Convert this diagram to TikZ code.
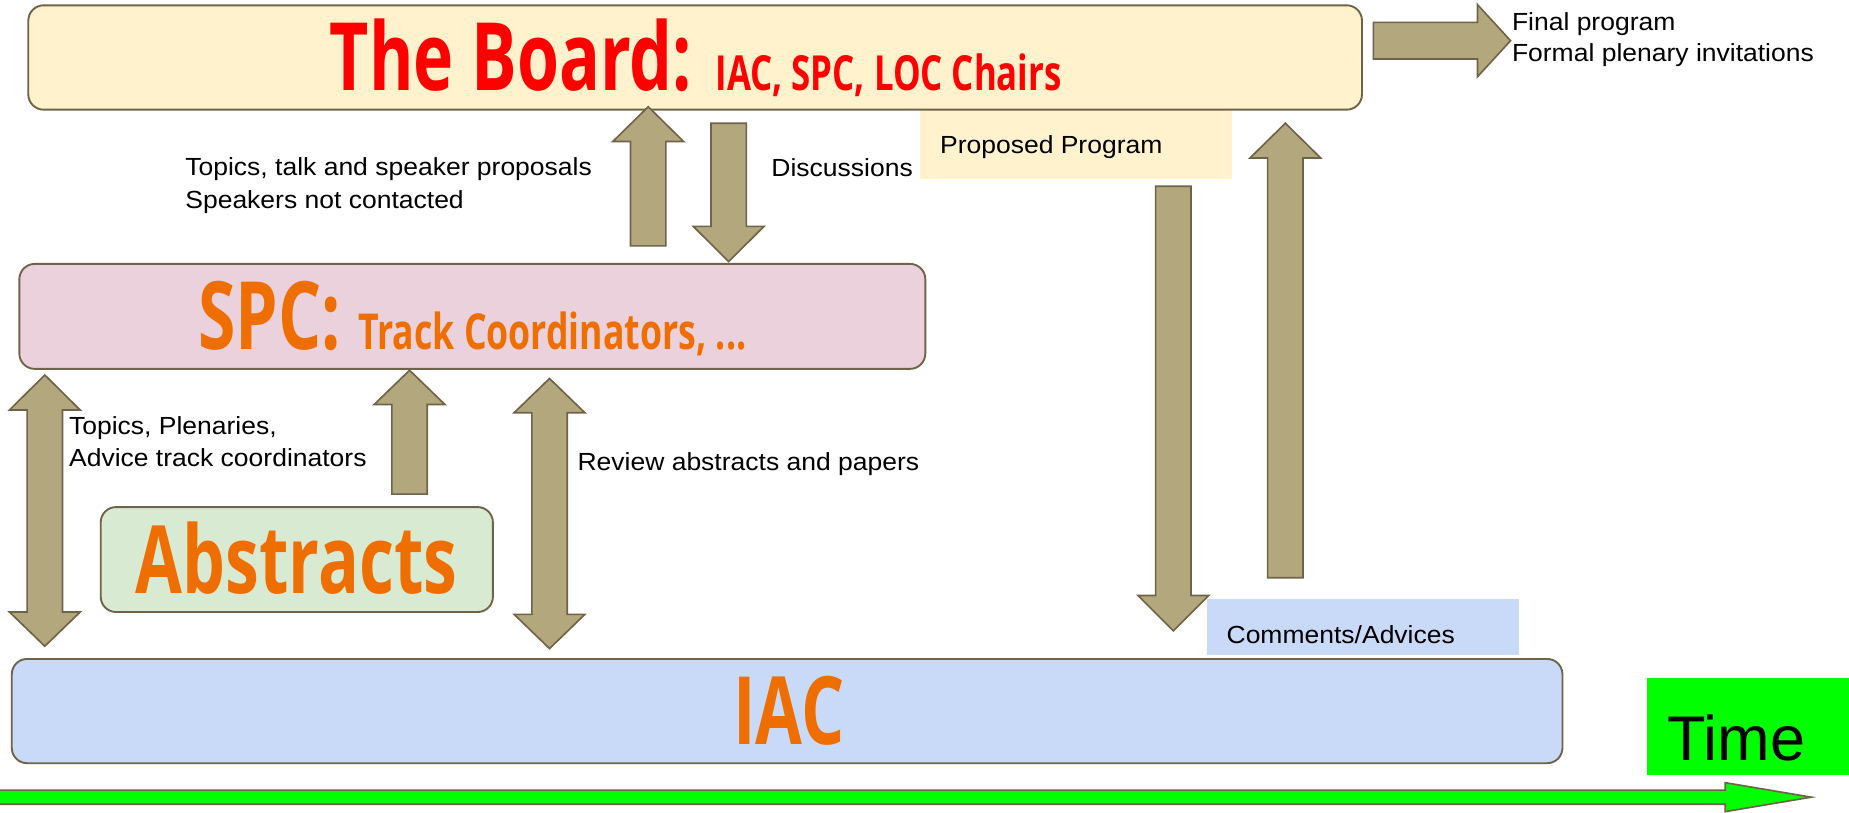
\documentclass[tikz,border=0pt]{standalone}
\usepackage{fontspec}
\setmainfont{Liberation Sans}[FakeStretch=1.07]
\newfontfamily\plainarial{Liberation Sans}
\newfontfamily\condf{Open Sans}[FakeStretch=0.72]
\definecolor{bdr}{HTML}{6F6349}
\definecolor{arrfill}{HTML}{B3A77D}
\definecolor{boardfill}{HTML}{FFF2CC}
\definecolor{spcfill}{HTML}{EAD1DC}
\definecolor{absfill}{HTML}{D9EAD3}
\definecolor{iacfill}{HTML}{C9DAF8}
\definecolor{orng}{HTML}{EE6F00}
\definecolor{tgreen}{HTML}{00FF00}
\newcommand\myvarrow[4]{\draw[blk] ({#1-15},#4) -- ({#1-15},#3) -- ({#1-30},#3) -- (#1,#2) -- ({#1+30},#3) -- ({#1+15},#3) -- ({#1+15},#4) -- cycle;}
\newcommand\mydarrow[5]{\draw[blk] (#1,#2) -- ({#1+30},#3) -- ({#1+15},#3) -- ({#1+15},#4) -- ({#1+30},#4) -- (#1,#5) -- ({#1-30},#4) -- ({#1-15},#4) -- ({#1-15},#3) -- ({#1-30},#3) -- cycle;}
\begin{document}
\begin{tikzpicture}[x=1pt,y=-1pt,
  box/.style={draw=bdr,line width=1.6pt,rounded corners=13pt,inner sep=0pt,outer sep=0pt,anchor=north west},
  plain/.style={inner sep=0pt,outer sep=0pt,anchor=north west},
  lbl/.style={anchor=base west,inner sep=0pt,font=\fontsize{21}{25}\selectfont},
  title/.style={anchor=base,inner sep=0pt,font=\condf\bfseries},
  blk/.style={draw=bdr,fill=arrfill,line width=1.4pt,line join=miter}]
\useasboundingbox (0,0) rectangle (1568,689);
% boxes
\node[plain,fill=boardfill,minimum width=264.8pt,minimum height=58.8pt] (prop) at (780,93.2) {};
\node[box,fill=boardfill,minimum width=1131pt,minimum height=88.5pt] (board) at (24,4.5) {};
\node[title,text=red] (boardt) at (590,76.5) {\fontsize{80}{80}\selectfont The Board: \fontsize{41}{41}\selectfont IAC, SPC, LOC Chairs};
\node[box,fill=spcfill,minimum width=768.3pt,minimum height=89pt] (spc) at (16.4,223.8) {};
\node[title,text=orng] (spct) at (400.5,296) {\fontsize{80}{80}\selectfont SPC: \fontsize{42}{42}\selectfont Track Coordinators, ...};
\node[box,fill=absfill,minimum width=332.6pt,minimum height=89pt] (abs) at (85.4,430) {};
\node[title,text=orng] (abst) at (251.5,503) {\fontsize{80}{80}\selectfont Abstracts};
\node[box,fill=iacfill,minimum width=1315pt,minimum height=88.4pt] (iac) at (10,558.8) {};
\node[title,text=orng] (iact) at (669,631.7) {\fontsize{80}{80}\selectfont IAC};
\node[plain,fill=iacfill,minimum width=264.8pt,minimum height=47.5pt] (comm) at (1023.7,508) {};
\node[plain,fill=tgreen,minimum width=180pt,minimum height=82pt] (timebox) at (1396.6,575) {};
\node[anchor=base west,inner sep=0pt,font=\plainarial\fontsize{53.5}{60}\selectfont] (timet) at (1414,644.5) {Time};
% labels
\node[lbl] (l1) at (157,149) {Topics, talk and speaker proposals};
\node[lbl] (l2) at (157,176.5) {Speakers not contacted};
\node[lbl] (l3) at (654,149.7) {Discussions};
\node[lbl] (l4) at (797,130.5) {Proposed Program};
\node[lbl] (l5) at (1282,26) {Final program};
\node[lbl] (l6) at (1282,52) {Formal plenary invitations};
\node[lbl] (l7) at (58.4,368.5) {Topics, Plenaries,};
\node[lbl] (l8) at (58.4,395.7) {Advice track coordinators};
\node[lbl] (l9) at (489.6,399) {Review abstracts and papers};
\node[lbl] (l10) at (1040,546) {Comments/Advices};
% block arrows
\myvarrow{549.7}{90.5}{120}{208.5}
\myvarrow{617.9}{221.8}{192}{104.5}
\myvarrow{347.3}{314}{343}{419}
\myvarrow{995}{535}{505}{158}
\myvarrow{1090}{104.5}{134}{490}
\mydarrow{38}{318}{347.7}{519}{548}
\mydarrow{466}{321}{350}{521}{550}
\draw[blk] (1164.6,19) -- (1253,19) -- (1253,4) -- (1281,34.5) -- (1253,65) -- (1253,50) -- (1164.6,50) -- cycle;
\draw[blk,fill=tgreen] (-10,670) -- (1463,670) -- (1463,663.7) -- (1536,676) -- (1463,688.3) -- (1463,682) -- (-10,682) -- cycle;
\end{tikzpicture}
\end{document}
